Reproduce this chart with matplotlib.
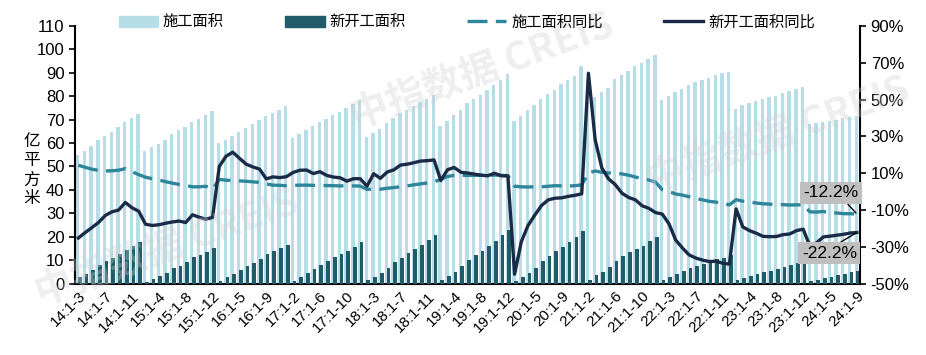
import matplotlib
matplotlib.use('Agg')
import matplotlib.pyplot as plt
from matplotlib.patches import Patch
from matplotlib.lines import Line2D
import numpy as np

plt.rcParams['font.family'] = ['Liberation Sans', 'Noto Sans CJK SC', 'DejaVu Sans']

# 期间：14年1-3月 ~ 24年1-9月（累计值）
years = list(range(2014, 2025))
months = {2014: range(3, 13), 2024: range(2, 10)}
periods = [f'{y % 100}:1-{m}' for y in years for m in months.get(y, range(2, 13))]

# 施工面积（亿平方米）
construction = [
    54.7, 56.5, 58.6, 61.1, 63.1, 64.9, 67.0, 68.8, 70.8, 72.6,
    56.8, 58.3, 59.7, 61.5, 63.7, 65.4, 66.8, 68.9, 70.4, 72.1, 73.6,
    60.1, 61.5, 63.2, 64.9, 66.5, 68.2, 70.0, 71.5, 73.0, 74.2, 75.9,
    62.2, 63.7, 65.4, 67.1, 69.0, 70.4, 71.8, 73.4, 74.9, 76.6, 78.2,
    62.5, 64.5, 66.2, 68.4, 70.9, 72.7, 73.9, 76.0, 77.5, 78.9, 80.6,
    67.2, 69.5, 72.1, 74.0, 77.0, 78.6, 80.6, 82.5, 84.6, 86.8, 89.4,
    69.4, 71.6, 74.1, 76.3, 78.9, 81.1, 82.8, 85.4, 87.1, 88.7, 92.7,
    77.5, 79.6, 81.8, 83.6, 87.2, 88.9, 90.7, 92.7, 94.1, 96.0, 97.5,
    78.2, 80.3, 81.8, 83.2, 84.6, 86.0, 86.8, 87.9, 88.9, 89.9, 90.5,
    74.7, 76.3, 77.1, 77.8, 78.6, 79.6, 80.3, 81.3, 82.1, 83.2, 83.8,
    68.0, 68.6, 68.8, 69.4, 70.0, 70.6, 71.1, 71.7,
]

# 新开工面积（亿平方米）
new_start = [
    2.7, 4.1, 5.9, 8.0, 9.6, 11.0, 12.7, 14.5, 16.2, 17.9,
    0.9, 2.0, 3.4, 4.6, 6.6, 7.7, 9.4, 11.2, 12.3, 13.4, 15.4,
    1.3, 2.7, 4.1, 5.9, 7.6, 9.0, 10.4, 12.7, 13.8, 15.1, 16.7,
    1.3, 3.0, 4.4, 6.3, 8.1, 9.6, 11.3, 12.7, 14.1, 15.8, 17.9,
    1.6, 3.0, 4.6, 6.7, 9.1, 11.0, 13.0, 14.8, 16.5, 18.7, 20.9,
    1.6, 3.4, 5.1, 7.4, 10.3, 12.3, 14.1, 16.2, 18.4, 20.6, 22.7,
    1.0, 2.8, 4.4, 6.5, 9.7, 11.7, 13.8, 15.8, 17.7, 19.8, 22.4,
    1.7, 3.6, 5.1, 7.3, 9.8, 11.7, 13.4, 14.8, 16.2, 18.0, 19.9,
    1.6, 3.0, 4.0, 5.2, 6.6, 7.5, 8.5, 9.5, 10.4, 11.1, 12.1,
    1.4, 2.4, 3.2, 4.0, 5.0, 5.6, 6.3, 7.2, 7.9, 8.7, 9.5,
    1.0, 1.7, 2.4, 3.0, 3.8, 4.3, 5.0, 5.5,
]

# 施工面积同比（%）
construction_yoy = [
    14.3, 13.2, 12.2, 11.5, 11.2, 11.3, 11.6, 12.5, 10.8, 9.2,
    7.8, 7.0, 6.3, 5.4, 4.6, 3.9, 3.3, 2.6, 2.6, 2.9, 1.3,
    6.6, 6.2, 6.0, 5.8, 5.6, 5.3, 5.0, 4.2, 3.5, 3.4, 3.2,
    3.4, 3.5, 3.5, 3.4, 3.3, 3.3, 3.2, 3.1, 3.1, 3.1, 3.0,
    1.2, 1.4, 1.3, 1.8, 2.2, 2.6, 3.1, 3.7, 4.2, 4.7, 5.2,
    6.8, 8.2, 8.8, 8.8, 8.8, 8.8, 8.9, 8.7, 9.0, 8.8, 8.7,
    2.9, 2.6, 2.5, 2.6, 2.6, 2.9, 3.2, 3.1, 3.0, 3.2, 3.7,
    10.1, 11.2, 10.5, 10.1, 10.2, 9.6, 8.9, 7.9, 7.0, 6.3, 5.2,
    1.0, 0.0, -1.3, -1.9, -2.8, -3.7, -4.5, -5.3, -5.7, -6.5, -7.2,
    -4.4, -5.2, -5.6, -6.2, -6.6, -6.8, -7.1, -7.1, -7.3, -7.2, -7.2,
    -11.0, -11.1, -10.8, -11.6, -11.6, -12.0, -12.0, -12.2,
]

# 新开工面积同比（%）
new_start_yoy = [
    -25.2, -22.3, -19.6, -16.8, -13.0, -11.0, -10.0, -5.9, -8.8, -10.7,
    -17.7, -18.4, -18.0, -17.2, -16.5, -16.0, -16.8, -12.6, -13.9, -15.0, -14.0,
    13.7, 19.2, 21.4, 18.1, 14.9, 13.4, 12.2, 6.9, 8.0, 7.6, 8.1,
    10.4, 11.6, 11.7, 9.8, 10.8, 8.8, 7.9, 7.5, 5.7, 7.0, 7.0,
    2.9, 9.7, 7.2, 10.6, 11.8, 14.4, 14.9, 15.7, 16.6, 16.8, 17.2,
    6.0, 11.9, 13.1, 10.5, 10.1, 9.5, 8.9, 8.6, 10.0, 8.6, 8.5,
    -44.9, -27.2, -18.4, -12.8, -7.6, -4.5, -3.6, -3.4, -2.6, -2.0, -1.2,
    64.3, 28.2, 12.8, 6.9, 3.8, -0.9, -3.2, -4.5, -7.7, -9.1, -11.4,
    -12.2, -17.5, -26.3, -30.6, -34.4, -36.1, -37.2, -38.0, -37.8, -38.9, -39.4,
    -9.4, -19.2, -21.2, -22.6, -24.3, -24.5, -24.4, -23.4, -23.0, -21.2, -20.4,
    -29.7, -27.8, -24.6, -24.2, -23.7, -23.2, -22.5, -22.2,
]

c_light = '#b7dde8'
c_dark = '#215a68'
c_dash = '#2e869b'
c_solid = '#1a2b47'
cjk = ['Noto Sans CJK SC', 'DejaVu Sans']

x = np.arange(len(periods))

fig = plt.figure(figsize=(9.26, 3.55), dpi=100)
ax = fig.add_axes([0.081, 0.201, 0.848, 0.726])

# 水印
for wx, wy in [(0.52, 0.80), (0.84, 0.62), (0.18, 0.30)]:
    fig.text(wx, wy, '中指数据 CREIS', fontsize=28, color='#d0d0d0', alpha=0.35, rotation=20,
             ha='center', va='center', fontweight='bold', zorder=0, family=cjk)

ax.bar(x - 0.1, construction, width=0.5, color=c_light, zorder=2)
ax.bar(x + 0.2, new_start, width=0.55, color=c_dark, zorder=3)
ax.set_ylim(0, 110)
ax.set_yticks(range(0, 111, 10))
ax.set_xlim(-0.5, len(x) - 0.5)
ax.set_xticks(x[::4])
ax.set_xticklabels(periods[::4], rotation=45, ha='right', rotation_mode='anchor', fontsize=11)
ax.tick_params(axis='x', length=0, pad=4)
ax.tick_params(axis='y', labelsize=12, direction='out', length=4, width=1.2)
ax.spines['top'].set_visible(False)
ax.spines['right'].set_visible(False)
for s in ['left', 'bottom']:
    ax.spines[s].set_linewidth(1.5)
ax.patch.set_alpha(0)

ax2 = ax.twinx()
ax2.plot(x, construction_yoy, color=c_dash, lw=2.4, dashes=(6, 2.5), zorder=5)
ax2.plot(x, new_start_yoy, color=c_solid, lw=2.4, zorder=6)
ax2.set_ylim(-50, 90)
ax2.set_yticks(range(-50, 91, 20))
ax2.set_yticklabels([f'{v}%' for v in range(-50, 91, 20)])
ax2.tick_params(axis='y', labelsize=12, direction='out', length=4, width=1.2)
ax2.spines['top'].set_visible(False)
ax2.spines['left'].set_visible(False)
ax2.spines['bottom'].set_visible(False)
ax2.spines['right'].set_linewidth(1.5)

fig.text(0.034, 0.52, '亿\n平\n方\n米', fontsize=12, ha='center', va='center',
         linespacing=1.15, family=cjk)

# 最新值标注
box = dict(boxstyle='square,pad=0.2', fc='#bfbfbf', ec='none')
last = len(x) - 1
ax2.annotate(f'{construction_yoy[-1]}%', xy=(last, construction_yoy[-1]), xytext=(last - 3.9, -0.7),
             ha='center', va='center', fontsize=12.5, bbox=box,
             arrowprops=dict(arrowstyle='-', color='black', lw=1, shrinkA=0, shrinkB=1,
                             relpos=(0.75, 0)), zorder=8)
ax2.annotate(f'{new_start_yoy[-1]}%', xy=(last, new_start_yoy[-1]), xytext=(last - 4.1, -33.4),
             ha='center', va='center', fontsize=12.5, bbox=box,
             arrowprops=dict(arrowstyle='-', color='black', lw=1, shrinkA=0, shrinkB=1,
                             relpos=(0.6, 1)), zorder=8)

handles = [
    Patch(color=c_light, label='施工面积'),
    Patch(color=c_dark, label='新开工面积'),
    Line2D([0], [0], color=c_dash, lw=2.4, dashes=(6, 2.5), label='施工面积同比'),
    Line2D([0], [0], color=c_solid, lw=2.4, label='新开工面积同比'),
]
fig.legend(handles=handles, loc='upper center', bbox_to_anchor=(0.504, 1.0), ncol=4, frameon=False,
           prop={'family': cjk, 'size': 11}, handlelength=2.6, handleheight=0.7,
           columnspacing=4.0, handletextpad=0.3)

fig.savefig('out.png', dpi=100)
